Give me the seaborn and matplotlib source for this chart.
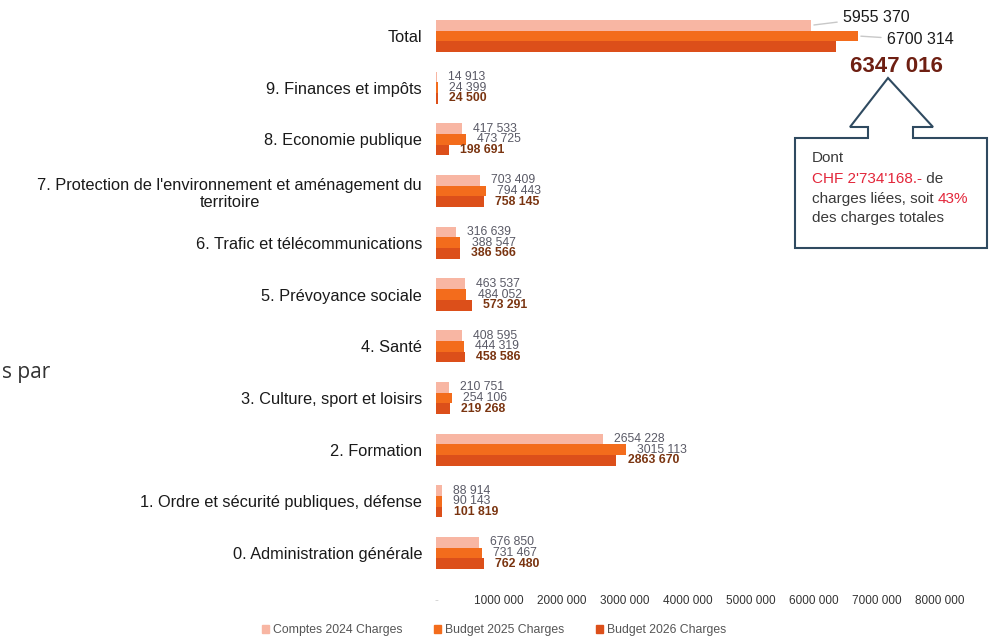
import numpy as np
import pandas as pd
import seaborn as sns
import matplotlib.pyplot as plt
from matplotlib.patches import Polygon, Patch
from matplotlib.text import Annotation
from matplotlib.ticker import FuncFormatter

# donnees
categories = [
    "Total",
    "9. Finances et impôts",
    "8. Economie publique",
    "7. Protection de l'environnement et aménagement du\nterritoire",
    "6. Trafic et télécommunications",
    "5. Prévoyance sociale",
    "4. Santé",
    "3. Culture, sport et loisirs",
    "2. Formation",
    "1. Ordre et sécurité publiques, défense",
    "0. Administration générale",
]
series = ["Comptes 2024 Charges", "Budget 2025 Charges", "Budget 2026 Charges"]
comptes_2024 = [5955370, 14913, 417533, 703409, 316639, 463537, 408595, 210751, 2654228, 88914, 676850]
budget_2025 = [6700314, 24399, 473725, 794443, 388547, 484052, 444319, 254106, 3015113, 90143, 731467]
budget_2026 = [6347016, 24500, 198691, 758145, 386566, 573291, 458586, 219268, 2863670, 101819, 762480]
xticks = [0, 1000000, 2000000, 3000000, 4000000, 5000000, 6000000, 7000000, 8000000]

colors = ["#f8b6a3", "#f36c1c", "#dc4f1a"]


def fmt(v):
    v = int(v)
    if v < 1000:
        return str(v)
    return f"{v // 1000} {v % 1000:03d}"


df = pd.DataFrame({
    "rubrique": categories * 3,
    "serie": np.repeat(series, len(categories)),
    "valeur": comptes_2024 + budget_2025 + budget_2026,
})

sns.set_theme(style="white")
plt.rcParams["font.family"] = ["Liberation Sans", "DejaVu Sans"]

W, H = 991, 638
fig = plt.figure(figsize=(W / 100, H / 100), dpi=100)
ax = fig.add_axes([436 / W, 1 - 578.85 / H, 541.8 / W, 568.7 / H])

sns.barplot(data=df, x="valeur", y="rubrique", hue="serie", palette=colors,
            orient="h", width=0.62, errorbar=None, saturation=1,
            legend=False, linewidth=0, ax=ax)

ax.set_xlim(0, 8.6e6)
ax.set_ylim(10.5, -0.5)
ax.set_xlabel("")
ax.set_ylabel("")
for s in ax.spines.values():
    s.set_visible(False)
ax.set_xticks(xticks)
ax.xaxis.set_major_formatter(FuncFormatter(lambda v, p: fmt(v) if v > 0 else "-"))
ax.tick_params(axis="x", length=0, pad=11.5, labelsize=8.5, labelcolor="#333333")
ax.tick_params(axis="y", length=0, pad=10, labelsize=11.8, labelcolor="#1a1a1a")
for t in ax.get_xticklabels():
    if t.get_text() == "-":
        t.set_color("#d0d0d0")
for t in ax.get_yticklabels():
    t.set_multialignment("center")

# etiquettes des valeurs
vals = [comptes_2024, budget_2025, budget_2026]
for i, cont in enumerate(ax.containers):
    labels = [""] + [fmt(v) for v in vals[i][1:]]
    if i < 2:
        ax.bar_label(cont, labels=labels, padding=8, fontsize=8.8, color="#5a5a66")
    else:
        ax.bar_label(cont, labels=labels, padding=8, fontsize=8.8, color="#7a3410",
                     fontweight="bold")

# etiquettes du total
lead = dict(arrowstyle="-", color="#c8c8c8", lw=1, shrinkA=2, shrinkB=2)
offs = [(32, 8), (29, -4)]
for i in range(2):
    r = ax.containers[i][0]
    ax.annotate(fmt(vals[i][0]), xy=(r.get_width(), r.get_y() + r.get_height() / 2),
                xytext=offs[i], textcoords="offset pixels", ha="left", va="center",
                fontsize=11.5, color="#1a1a1a", arrowprops=lead)
r = ax.containers[2][0]
ax.annotate(fmt(vals[2][0]), xy=(r.get_width(), r.get_y() + r.get_height() / 2),
            xytext=(14, -20), textcoords="offset pixels", ha="left", va="center",
            fontsize=16, fontweight="bold", color="#6e1f12")

# legende
handles = [Patch(color=c) for c in colors]
ax.legend(handles, series, loc="center", bbox_to_anchor=(494 / W, 1 - 630 / H),
          bbox_transform=fig.transFigure, ncol=3, frameon=False, fontsize=8.8,
          labelcolor="#555555", handlelength=0.6, handleheight=0.6,
          handletextpad=0.3, columnspacing=2.6)

# encadre en forme de fleche
pts = [(888, 78), (933, 127), (913, 127), (913, 138), (987, 138), (987, 248),
       (795, 248), (795, 138), (868, 138), (868, 127), (850, 127)]
poly = Polygon([(x / W, 1 - y / H) for x, y in pts], closed=True,
               transform=fig.transFigure, facecolor="white", edgecolor="#2f4a60",
               lw=1.5, zorder=1)
fig.add_artist(poly)

gray = "#3a3a3a"
red = "#e3263a"
tx = 812 / W
fig.text(tx, 1 - 158 / H, "Dont", fontsize=11, color=gray, va="center")
t1 = fig.text(tx, 1 - 179 / H, "CHF 2'734'168.-", fontsize=11, color=red, va="center")
fig.add_artist(Annotation(" de", xy=(1, 0), xycoords=t1, va="bottom", ha="left",
                          fontsize=11, color=gray))
t2 = fig.text(tx, 1 - 199 / H, "charges liées, soit ", fontsize=11, color=gray, va="center")
fig.add_artist(Annotation("43%", xy=(1, 0), xycoords=t2, va="bottom", ha="left",
                          fontsize=11, color=red))
fig.text(tx, 1 - 218 / H, "des charges totales", fontsize=11, color=gray, va="center")

fig.text(2 / W, 1 - 372 / H, "s par", fontsize=15, color="#333333", va="center",
         family=["Open Sans", "DejaVu Sans"])

fig.savefig("out.png", dpi=100)
